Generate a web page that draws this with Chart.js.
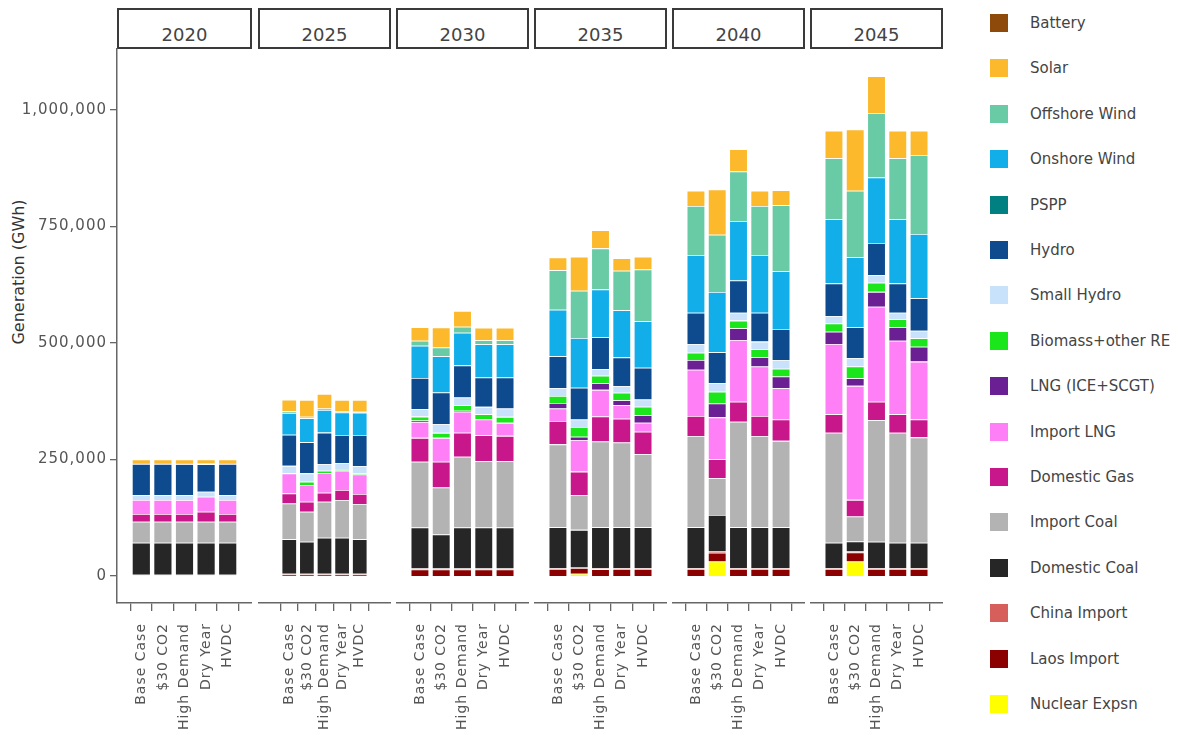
<!DOCTYPE html>
<html lang="en">
<head>
<meta charset="UTF-8">
<title>Generation (GWh) by scenario</title>
<style>
  body { margin: 0; width: 1195px; height: 739px; position: relative; background: #fff; overflow: hidden; font-family: "DejaVu Sans", sans-serif; }
  canvas { position: absolute; top: 0; }
  .strip { position: absolute; top: 8px; height: 41px; box-sizing: border-box; border: 2px solid #3a3a3a; text-align: center; font-size: 18px; color: #444; padding-top: 13px; line-height: 24px; }
  #ytitle { position: absolute; left: -81px; top: 262px; width: 200px; height: 20px; line-height: 20px; text-align: center; font-size: 16px; color: #333; transform: rotate(-90deg); }
  .leg { position: absolute; left: 990px; height: 18px; font-size: 15px; color: #444; line-height: 18px; white-space: nowrap; }
  .leg span { position: absolute; left: 0; top: 0; width: 18px; height: 18px; }
  .leg b { position: absolute; left: 40px; top: 0; font-weight: normal; }
</style>
</head>
<body>

<div id="ytitle">Generation (GWh)</div>

<script src="https://cdn.jsdelivr.net/npm/chart.js"></script>
<script>
  const years = ['2020', '2025', '2030', '2035', '2040', '2045'];
  const scenarios = ['Base Case', '$30 CO2', 'High Demand', 'Dry Year', 'HVDC'];
  const yTicks = [0, 250000, 500000, 750000, 1000000];

  // GWh, 5 scenarios per year, years in order 2020 .. 2045
  const nuclearExpsn = [0, 0, 0, 0, 0,  0, 0, 0, 0, 0,  0, 0, 0, 0, 0,
    0, 5000, 0, 0, 0,  0, 31000, 0, 0, 0,  0, 31000, 0, 0, 0];
  const laosImport = [0, 0, 0, 0, 0,  3000, 3000, 3000, 3000, 3000,  14000, 14000, 14000, 14000, 14000,
    15000, 12000, 14500, 15000, 15000,  15000, 19000, 15000, 15000, 15000,  15000, 19500, 15000, 15000, 15000];
  const chinaImport = [2500, 2500, 2500, 2500, 2500,  2000, 2000, 2000, 2000, 2000,  2000, 2000, 2000, 2000, 2000,
    1500, 2000, 2000, 1500, 1500,  1500, 2500, 1500, 1500, 1500,  1500, 2000, 1500, 1500, 1500];
  const domesticCoal = [69000, 69000, 69000, 69000, 69000,  73800, 68600, 77200, 77200, 73800,
    88000, 73000, 88000, 88000, 88000,  88000, 80000, 88000, 88000, 88000,
    88000, 78500, 88000, 88000, 88000,  55000, 21500, 57000, 55000, 55000];
  const importCoal = [45000, 45000, 45000, 45000, 45000,  77000, 64400, 77300, 81000, 75700,
    141000, 101000, 152000, 142300, 142300,  178000, 75000, 184000, 182000, 156700,
    196000, 78600, 226600, 196000, 185500,  236000, 53600, 261000, 236000, 226000];
  const domesticGas = [16500, 16500, 16500, 21500, 16500,  21500, 21500, 19300, 21500, 21500,
    51500, 55000, 51500, 56000, 54400,  50000, 50000, 54000, 51000, 48600,
    43000, 40800, 43000, 43000, 46000,  39500, 35800, 39300, 39500, 38600];
  const importLNG = [30000, 30000, 30000, 32000, 30000,  43000, 35800, 41600, 41500, 42000,
    34000, 51500, 45000, 33600, 27900,  27000, 68000, 57000, 29000, 19000,
    99000, 90000, 132500, 106000, 67000,  151000, 244600, 204000, 158000, 124000];
  const lngIceScgt = [0, 0, 0, 0, 0,  0, 0, 0, 0, 0,  3000, 0, 2000, 0, 0,
    12000, 7000, 14500, 10700, 16500,  21000, 30000, 25000, 20000, 25000,  26000, 16500, 32000, 29000, 32000];
  const biomass = [0, 0, 0, 0, 0,  0, 7000, 5600, 3500, 2000,  8600, 10700, 12000, 11400, 12900,
    15000, 21000, 15700, 16000, 18000,  15600, 25000, 16500, 17000, 17000,  18000, 25000, 19500, 17000, 18000];
  const smallHydro = [10700, 10700, 10700, 10700, 10700,  16000, 18000, 13700, 12500, 16000,
    16500, 18600, 16500, 15700, 17900,  17000, 16000, 14000, 14000, 15700,
    19000, 19000, 17000, 16500, 18000,  16000, 18000, 16500, 14000, 16400];
  const hydro = [66500, 66500, 66500, 59400, 66500,  67000, 67000, 68000, 60600, 66600,
    66500, 68000, 69000, 63000, 66500,  68000, 68000, 68500, 62000, 68000,
    67000, 66000, 69000, 62000, 67000,  70000, 66500, 69000, 63000, 69600];
  const pspp = [0, 0, 0, 0, 0,  0, 0, 0, 0, 0,  0, 0, 0, 0, 0,
    0, 0, 0, 0, 0,  0, 0, 0, 0, 0,  0, 0, 0, 0, 0];
  const onshoreWind = [2000, 2000, 2000, 2000, 2000,  46500, 51500, 48600, 48000, 48000,
    69000, 78000, 70000, 71500, 71500,  100000, 107000, 103000, 101000, 100000,
    124000, 129000, 128000, 124000, 124000,  137500, 150000, 140600, 137500, 138000];
  const offshoreWind = [0, 0, 0, 0, 0,  3500, 3000, 3000, 3000, 2000,  10700, 18600, 13000, 8600, 8600,
    85000, 101000, 88000, 85000, 111000,  105000, 123000, 106000, 105000, 142000,
    131000, 143000, 138400, 131000, 169500];
  const solar = [8000, 8000, 8000, 8000, 8000,  25000, 36000, 31600, 24000, 25000,
    29000, 43000, 33600, 27000, 27000,  27000, 73000, 39000, 27000, 27000,
    33000, 97000, 48000, 33000, 32000,  59000, 131600, 79000, 59000, 52000];
  const battery = [0, 0, 0, 0, 0,  0, 0, 0, 0, 0,  0, 0, 0, 0, 0,
    0, 0, 0, 0, 0,  0, 0, 0, 0, 0,  0, 0, 0, 0, 0];

  // stacking order, bottom first
  const seriesNames = ['Nuclear Expsn', 'Laos Import', 'China Import', 'Domestic Coal', 'Import Coal',
    'Domestic Gas', 'Import LNG', 'LNG (ICE+SCGT)', 'Biomass+other RE', 'Small Hydro', 'Hydro',
    'PSPP', 'Onshore Wind', 'Offshore Wind', 'Solar', 'Battery'];
  const seriesValues = [nuclearExpsn, laosImport, chinaImport, domesticCoal, importCoal,
    domesticGas, importLNG, lngIceScgt, biomass, smallHydro, hydro,
    pspp, onshoreWind, offshoreWind, solar, battery];
  const seriesColors = ['#ffff00', '#8b0000', '#d65f5b', '#262626', '#b3b3b3',
    '#c8178b', '#ff80f6', '#6a1f92', '#1be61b', '#c8e2fb', '#0e4a8e',
    '#008080', '#12aeea', '#69cba6', '#fbb92b', '#8e4a0b'];

  // panel geometry
  const panelLeft = [117, 258, 396, 534, 672, 810];
  const panelWidth = [135, 133, 133, 133, 133, 133];
  const xRange = [[-0.5, 4.5], [-1.02, 5.02], [-0.5, 4.5], [-0.5, 4.5], [-0.5, 4.5], [-0.5, 4.5]];
  const H = 739, plotTop = 49, plotBottom = 603;

  const spacing = {
    id: 'spacing',
    beforeDraw(chart) { chart.ctx.letterSpacing = '1px'; }
  };

  function makePanel(p) {
    const first = p === 0;
    const left = first ? 0 : panelLeft[p];
    const width = first ? panelLeft[0] + panelWidth[0] : panelWidth[p];

    const strip = document.createElement('div');
    strip.className = 'strip';
    strip.style.left = panelLeft[p] + 'px';
    strip.style.width = panelWidth[p] + 'px';
    strip.textContent = years[p];
    document.body.appendChild(strip);

    const canvas = document.createElement('canvas');
    canvas.width = width;
    canvas.height = H;
    canvas.style.left = left + 'px';
    canvas.style.width = width + 'px';
    canvas.style.height = H + 'px';
    document.body.appendChild(canvas);

    const datasets = seriesNames.map((name, s) => ({
      label: name,
      data: scenarios.map((_, i) => ({ x: i, y: seriesValues[s][p * 5 + i] })),
      backgroundColor: seriesColors[s],
      borderColor: 'rgba(255,255,255,0.55)',
      borderWidth: 0.8,
      barPercentage: 0.87,
      categoryPercentage: 1
    }));

    new Chart(canvas, {
      type: 'bar',
      data: { datasets },
      plugins: [spacing],
      options: {
        responsive: false,
        animation: false,
        layout: { padding: { top: plotTop, left: 0, right: 0, bottom: 0 } },
        plugins: { legend: { display: false }, tooltip: { enabled: false } },
        scales: {
          x: {
            type: 'linear',
            stacked: true,
            min: xRange[p][0],
            max: xRange[p][1],
            afterBuildTicks: ax => { ax.ticks = scenarios.map((_, i) => ({ value: i })); },
            afterFit: ax => { ax.height = H - plotBottom; ax.paddingLeft = 0; ax.paddingRight = 0; },
            ticks: {
              autoSkip: false, maxRotation: 90, minRotation: 90, padding: 12,
              color: '#555', font: { family: 'DejaVu Sans', size: 14 },
              callback: v => scenarios[v]
            },
            grid: { drawOnChartArea: false, drawTicks: true, tickLength: 8, color: '#666', lineWidth: 1.3 },
            border: { display: true, color: '#666', width: 1.5 }
          },
          y: {
            display: first,
            stacked: true,
            min: -58000,
            max: 1131000,
            afterBuildTicks: ax => { ax.ticks = yTicks.map(v => ({ value: v })); },
            afterFit: ax => { ax.width = first ? panelLeft[0] : 0; },
            ticks: {
              color: '#555', padding: 3, font: { family: 'DejaVu Sans', size: 15 },
              callback: v => v.toLocaleString('en-US')
            },
            grid: { drawOnChartArea: false, drawTicks: true, tickLength: 7, color: '#666', lineWidth: 1.3 },
            border: { display: true, color: '#666', width: 1.5 }
          }
        }
      }
    });
  }

  years.forEach((_, p) => makePanel(p));

  // legend, top entry first
  seriesNames.slice().reverse().forEach((name, i) => {
    const row = document.createElement('div');
    row.className = 'leg';
    row.style.top = (14 + i * 45.4) + 'px';
    const sw = document.createElement('span');
    sw.style.background = seriesColors[seriesNames.length - 1 - i];
    const tx = document.createElement('b');
    tx.textContent = name;
    row.appendChild(sw);
    row.appendChild(tx);
    document.body.appendChild(row);
  });
</script>

</body>
</html>
